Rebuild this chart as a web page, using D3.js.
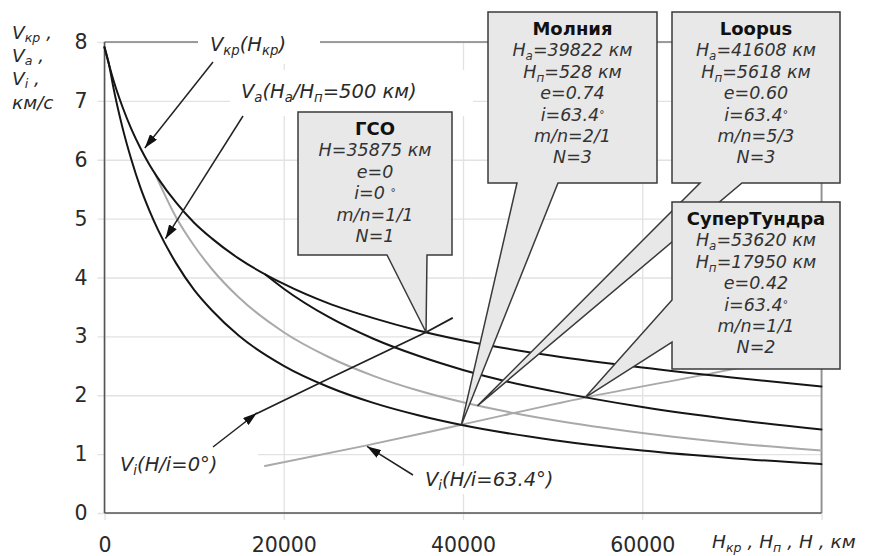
<!DOCTYPE html>
<html>
<head>
<meta charset="utf-8">
<script src="https://cdn.jsdelivr.net/npm/d3@7"></script>
<style>
  html, body { margin: 0; padding: 0; background: #fff; }
  svg { display: block; font-family: "DejaVu Sans", Verdana, sans-serif; }
  .tick text { font-size: 20.5px; fill: #2a2a2a; font-family: "DejaVu Sans", Verdana, sans-serif; }
  .lbl { font-size: 19.5px; font-style: italic; fill: #2a2a2a; }
  .ytitle { font-size: 18.5px; font-style: italic; fill: #2a2a2a; }
  .ctitle { font-size: 18px; font-weight: bold; fill: #111; text-anchor: middle; }
  .cbody { font-size: 17.5px; font-style: italic; fill: #333; text-anchor: middle; }
</style>
</head>
<body>
<svg id="chart" width="874" height="556"></svg>
<script>
// ---- axis ticks ----
const xTickValues = [0, 20000, 40000, 60000, 80000];
const yTickValues = [0, 1, 2, 3, 4, 5, 6, 7, 8];

// ---- circular velocity Vкр(Hкр), km/s ----
const hKr = [0, 1000, 2000, 3000, 4000, 5000, 6000, 8000, 10000, 12000, 15000, 20000, 25000, 30000, 35000, 40000, 50000, 60000, 70000, 80000];
const vKr = [7.91, 7.35, 6.90, 6.52, 6.20, 5.92, 5.68, 5.27, 4.93, 4.66, 4.32, 3.89, 3.56, 3.31, 3.10, 2.93, 2.67, 2.47, 2.30, 2.15];

// ---- apogee velocity, perigee 500 km ----
const hA500 = [0, 500, 1000, 2000, 3000, 4000, 5000, 6000, 8000, 10000, 12000, 15000, 20000, 25000, 30000, 35000, 40000, 50000, 60000, 70000, 80000];
const vA500 = [7.91, 7.62, 7.22, 6.55, 6.00, 5.53, 5.14, 4.80, 4.24, 3.79, 3.44, 3.01, 2.50, 2.14, 1.87, 1.66, 1.49, 1.24, 1.06, 0.93, 0.83];

// ---- apogee velocity, perigee 5618 km (grey) ----
const hA5618 = [5618, 8000, 10000, 12000, 15000, 20000, 25000, 30000, 35000, 40000, 50000, 60000, 70000, 80000];
const vA5618 = [5.77, 5.02, 4.54, 4.14, 3.66, 3.07, 2.65, 2.33, 2.08, 1.88, 1.58, 1.36, 1.19, 1.06];

// ---- apogee velocity, perigee 17950 km ----
const hA17950 = [17950, 20000, 25000, 30000, 35000, 40000, 45000, 50000, 60000, 70000, 80000];
const vA17950 = [4.05, 3.81, 3.33, 2.96, 2.67, 2.43, 2.23, 2.07, 1.80, 1.59, 1.42];

// ---- Vi lines ----
const hVi0 = [17000, 25000, 35875, 38800];
const vVi0 = [1.69, 2.28, 3.07, 3.31];
const hVi63 = [17900, 29000, 39822, 53620, 68000, 72000];
const vVi63 = [0.80, 1.14, 1.50, 1.96, 2.38, 2.50];

// ---- orbits shown in callouts ----
const orbitNames = ["ГСО", "Молния", "Loopus", "СуперТундра"];
const orbitHa = [35875, 39822, 41608, 53620];
const orbitHp = [35875, 528, 5618, 17950];
const orbitE = ["0", "0.74", "0.60", "0.42"];
const orbitI = ["0", "63.4", "63.4", "63.4"];
const orbitMN = ["1/1", "2/1", "5/3", "1/1"];
const orbitN = [1, 3, 3, 2];
const orbitV = [3.07, 1.50, 1.82, 1.96];

// ---- scales ----
const x = d3.scaleLinear().domain([0, 80000]).range([104.5, 821.5]);
const y = d3.scaleLinear().domain([0, 8]).range([513, 42]);
const x0 = x(0), x1 = x(80000), y0 = y(0), y1 = y(8);

const svg = d3.select("#chart");
svg.append("rect").attr("width", 874).attr("height", 556).attr("fill", "#fff");

const defs = svg.append("defs");
defs.append("marker")
  .attr("id", "head").attr("viewBox", "0 0 14 9")
  .attr("refX", 14).attr("refY", 4.5)
  .attr("markerWidth", 14).attr("markerHeight", 9)
  .attr("markerUnits", "userSpaceOnUse").attr("orient", "auto")
  .append("path").attr("d", "M0,0L14,4.5L0,9Z").attr("fill", "#111");

// ---- grid + tick labels via d3 axes ----
const gx = svg.append("g")
  .attr("transform", `translate(0,${y0})`)
  .call(d3.axisBottom(x).tickValues(xTickValues)
    .tickFormat(d => d === 80000 ? "" : d3.format("d")(d))
    .tickSizeInner(-(y0 - y1)).tickSizeOuter(0).tickPadding(24));
gx.select(".domain").remove();
gx.selectAll(".tick line").attr("y1", 7).attr("stroke", "#e2e2e2").attr("stroke-width", 1.3);

const gy = svg.append("g")
  .attr("transform", `translate(${x0},0)`)
  .call(d3.axisLeft(y).tickValues(yTickValues)
    .tickFormat(d3.format("d"))
    .tickSizeInner(-(x1 - x0)).tickSizeOuter(0).tickPadding(17));
gy.select(".domain").remove();
gy.selectAll(".tick line").attr("x1", -7).attr("stroke", "#e2e2e2").attr("stroke-width", 1.3);

// plot frame
svg.append("line").attr("x1", x0).attr("x2", x1).attr("y1", y1).attr("y2", y1).attr("stroke", "#808080").attr("stroke-width", 1.6);
svg.append("line").attr("x1", x1).attr("x2", x1).attr("y1", y1).attr("y2", y0).attr("stroke", "#909090").attr("stroke-width", 1.8);
svg.append("line").attr("x1", x0).attr("x2", x0).attr("y1", y1).attr("y2", y0).attr("stroke", "#555").attr("stroke-width", 1.6);
svg.append("line").attr("x1", x0).attr("x2", x1).attr("y1", y0).attr("y2", y0).attr("stroke", "#555").attr("stroke-width", 1.6);

// ---- curves ----
const smooth = d3.line().x(d => x(d[0])).y(d => y(d[1])).curve(d3.curveMonotoneX);
const straight = d3.line().x(d => x(d[0])).y(d => y(d[1]));
const zip = (a, b) => a.map((v, i) => [v, b[i]]);

const curves = svg.append("g").attr("fill", "none").attr("stroke-linejoin", "round").attr("stroke-linecap", "round");
curves.append("path").attr("d", smooth(zip(hA5618, vA5618))).attr("stroke", "#a9a9a9").attr("stroke-width", 2);
curves.append("path").attr("d", smooth(zip(hVi63, vVi63))).attr("stroke", "#a9a9a9").attr("stroke-width", 2);
curves.append("path").attr("d", smooth(zip(hA17950, vA17950))).attr("stroke", "#151515").attr("stroke-width", 2);
curves.append("path").attr("d", smooth(zip(hA500, vA500))).attr("stroke", "#151515").attr("stroke-width", 2);
curves.append("path").attr("d", smooth(zip(hKr, vKr))).attr("stroke", "#151515").attr("stroke-width", 2);
curves.append("path").attr("d", straight(zip(hVi0, vVi0))).attr("stroke", "#202020").attr("stroke-width", 1.8);

// ---- rich text helper: parts are strings or [text, "sub" | "small"] ----
function rich(sel, px, py, parts, cls, subShift = 4) {
  const t = sel.append("text").attr("x", px).attr("y", py).attr("class", cls);
  let off = 0;
  parts.forEach(p => {
    const [s, kind] = Array.isArray(p) ? p : [p];
    const target = kind === "sub" ? subShift : kind === "small" ? -3 : 0;
    const ts = t.append("tspan").text(s);
    if (target !== off) ts.attr("dy", target - off);
    if (kind) ts.attr("font-size", kind === "small" ? "0.6em" : "0.68em");
    off = target;
  });
  return t;
}

// ---- y axis title ----
const ytl = svg.append("g");
rich(ytl, 12, 39, ["V", ["кр", "sub"], " ,"], "ytitle", 2.5);
rich(ytl, 12, 62, ["V", ["a", "sub"], " ,"], "ytitle", 2.5);
rich(ytl, 12, 85, ["V", ["i", "sub"], " ,"], "ytitle", 2.5);
rich(ytl, 12, 109, ["км/с"], "ytitle");

// ---- x axis title ----
rich(svg, 712, 548, ["H", ["кр", "sub"], " , H", ["п", "sub"], " , H , км"], "ytitle");

// ---- curve labels with arrows ----
const labels = svg.append("g");
labels.append("rect").attr("x", 198).attr("y", 24).attr("width", 122).attr("height", 40).attr("fill", "#fff");
labels.append("rect").attr("x", 230).attr("y", 70).attr("width", 243).attr("height", 46).attr("fill", "#fff");
labels.append("rect").attr("x", 106).attr("y", 440).attr("width", 152).attr("height", 50).attr("fill", "#fff");
labels.append("rect").attr("x", 420).attr("y", 466).attr("width", 150).attr("height", 28).attr("fill", "#fff");

rich(labels, 210, 51, ["V", ["кр", "sub"], "(H", ["кр", "sub"], ")"], "lbl");
rich(labels, 241, 98, ["V", ["a", "sub"], "(H", ["a", "sub"], "/H", ["п", "sub"], "=500 км)"], "lbl");
rich(labels, 120, 471, ["V", ["i", "sub"], "(H/i=0°)"], "lbl");
rich(labels, 425, 486, ["V", ["i", "sub"], "(H/i=63.4°)"], "lbl");

const arrows = [
  { from: [213, 62], to: [4500, 6.2] },
  { from: [243, 116], to: [6800, 4.66] },
  { from: [213, 447], to: [17000, 1.70] },
  { from: [413, 475], to: [29300, 1.13] }
];
labels.selectAll("line.arrow").data(arrows).join("line")
  .attr("class", "arrow")
  .attr("x1", d => d.from[0]).attr("y1", d => d.from[1])
  .attr("x2", d => x(d.to[0])).attr("y2", d => y(d.to[1]))
  .attr("stroke", "#222").attr("stroke-width", 1.5)
  .attr("marker-end", "url(#head)");

// ---- callouts: box [left, top, right, bottom], pointer base on bottom or left edge ----
const calloutBoxes = [
  { box: [298, 112, 452, 255], side: "bottom", base: [387, 427] },
  { box: [488, 12, 657, 183], side: "bottom", base: [517, 558] },
  { box: [672, 12, 840, 183], side: "bottom", base: [700, 742] },
  { box: [672, 202, 840, 369], side: "left", base: [300, 342] }
];

const callouts = svg.append("g");
calloutBoxes.forEach((c, i) => {
  const [l, t, r, b] = c.box;
  const tip = [x(orbitHa[i]), y(orbitV[i])];
  let pts;
  if (c.side === "bottom") {
    pts = [[l, t], [r, t], [r, b], [c.base[1], b], tip, [c.base[0], b], [l, b]];
  } else {
    pts = [[l, t], [r, t], [r, b], [l, b], [l, c.base[1]], tip, [l, c.base[0]]];
  }
  const g = callouts.append("g");
  g.append("path")
    .attr("d", "M" + pts.map(p => p.join(",")).join("L") + "Z")
    .attr("fill", "#e8e8e8").attr("stroke", "#3a3a3a").attr("stroke-width", 1.5)
    .attr("stroke-linejoin", "miter");

  const cx = (l + r) / 2;
  const top = t + 23, step = 21.4;
  rich(g, cx, top, [orbitNames[i]], "ctitle");
  const lines = [];
  if (orbitHa[i] === orbitHp[i]) {
    lines.push(["H=" + orbitHa[i] + " км"]);
  } else {
    lines.push(["H", ["a", "sub"], "=" + orbitHa[i] + " км"]);
    lines.push(["H", ["п", "sub"], "=" + orbitHp[i] + " км"]);
  }
  lines.push(["e=" + orbitE[i]]);
  lines.push(orbitI[i] === "0" ? ["i=0 ", ["°", "small"]] : ["i=" + orbitI[i], ["°", "small"]]);
  lines.push(["m/n=" + orbitMN[i]]);
  lines.push(["N=" + orbitN[i]]);
  lines.forEach((parts, k) => rich(g, cx, top + step * (k + 1), parts, "cbody"));
});
</script>
</body>
</html>
